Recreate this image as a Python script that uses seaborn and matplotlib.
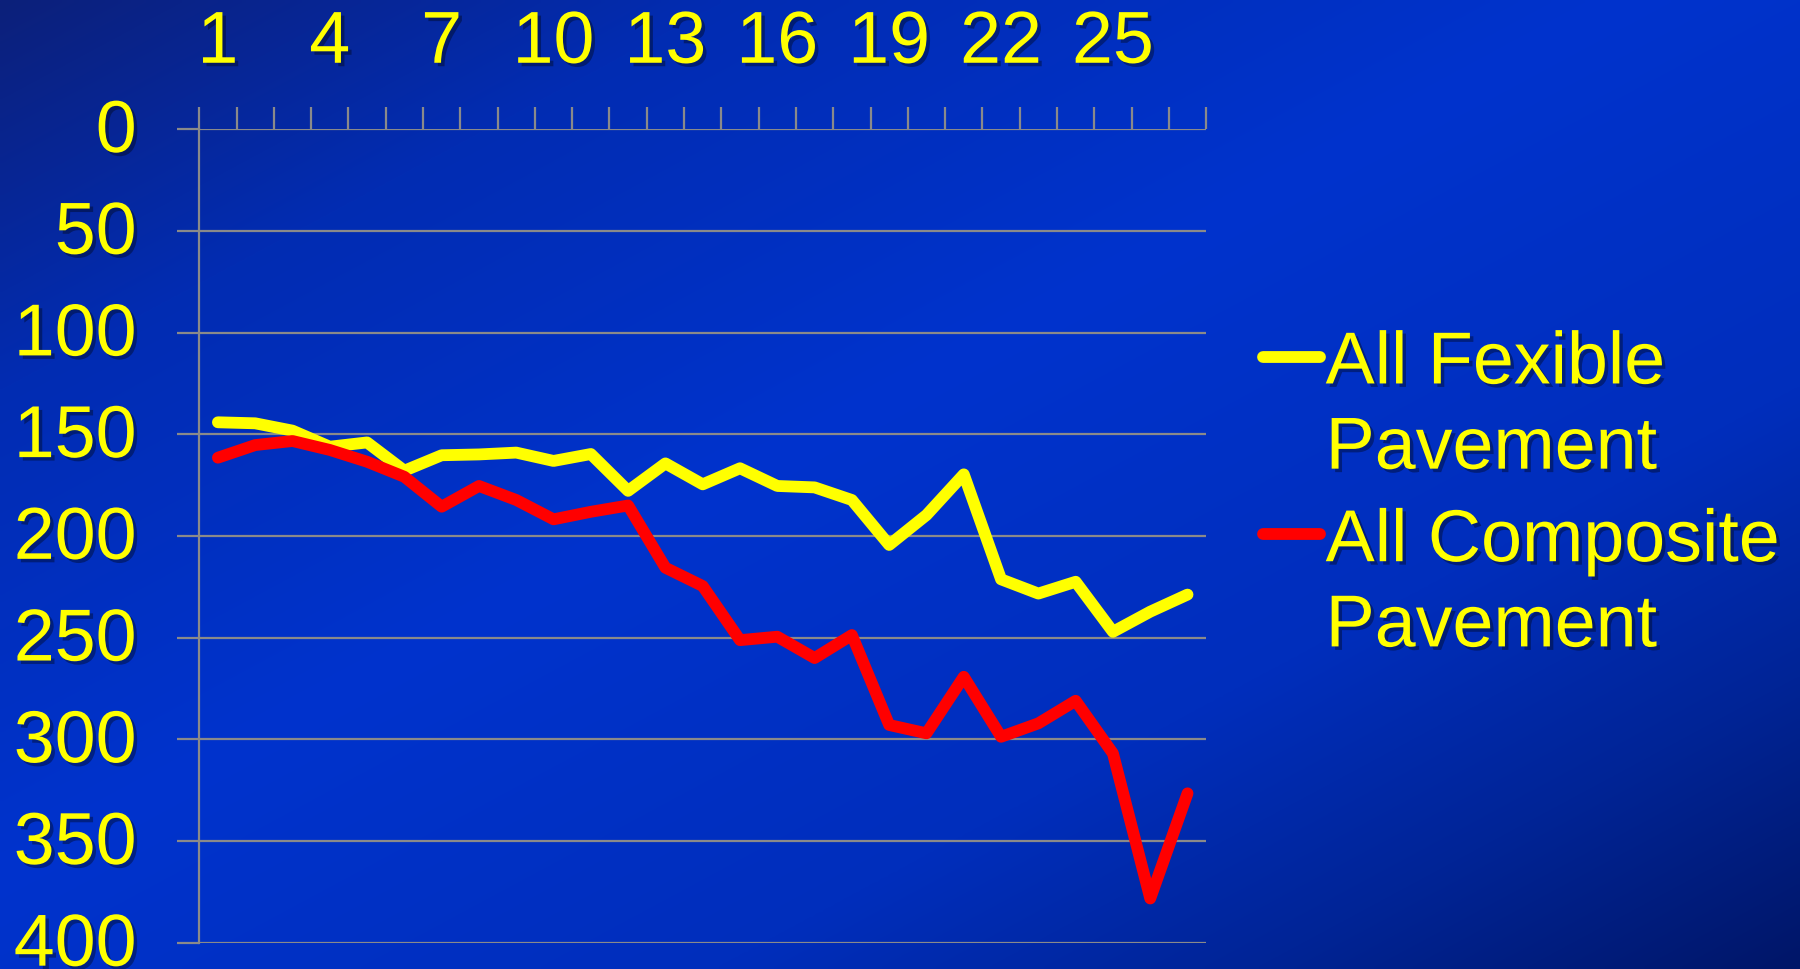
import numpy as np
import pandas as pd
import matplotlib
matplotlib.use("Agg")
import matplotlib.pyplot as plt
import matplotlib.patheffects as pe
import matplotlib.transforms as mtransforms
from matplotlib.lines import Line2D
from matplotlib.legend_handler import HandlerLine2D
import seaborn as sns

# ---------------- data ----------------
periods = list(range(1, 28))
flexible = [144.1, 144.6, 148.2, 156.1, 154.0, 167.9, 160.3, 159.9, 159.0, 163.1,
            159.7, 177.8, 164.3, 174.6, 166.7, 175.4, 176.1, 182.3, 204.4, 189.7,
            169.7, 221.3, 228.3, 222.5, 247.1, 237.2, 228.8]
composite = [161.5, 155.3, 153.3, 157.7, 163.5, 170.9, 185.6, 175.4, 182.3, 191.8,
             188.1, 185.0, 215.6, 224.6, 251.2, 249.5, 260.0, 248.7, 292.9, 297.0,
             269.2, 298.7, 292.1, 281.0, 306.9, 378.2, 326.5]
series_names = ["All Fexible\nPavement", "All Composite\nPavement"]
series_colors = ["#FFFF00", "#FF0000"]
y_ticks = [0, 50, 100, 150, 200, 250, 300, 350, 400]
x_label_periods = [1, 4, 7, 10, 13, 16, 19, 22, 25]

df = pd.DataFrame({
    "period": periods * 2,
    "value": flexible + composite,
    "series": [series_names[0]] * len(periods) + [series_names[1]] * len(periods),
})

# ---------------- style ----------------
sns.set_style("white")
plt.rcParams["font.family"] = ["Liberation Sans", "DejaVu Sans"]
TEXT = "#FFFF00"
GRID = "#8a8a8a"
LW = 8.5
shadow = [pe.withSimplePatchShadow(offset=(2.5, -2.5), shadow_rgbFace="black", alpha=0.35)]

fig = plt.figure(figsize=(18, 9.69), dpi=100)

# background gradient
bg = fig.add_axes([0, 0, 1, 1], zorder=-10)
W, H = 360, 194
xs = np.linspace(0, 1, W)[None, :]
ys = np.linspace(0, 1, H)[:, None]
s = (xs + ys) / 2.0
stops = [0.0, 0.2, 0.45, 0.7, 0.85, 1.0]
rs = [12, 2, 0, 0, 0, 0]
gs = [32, 44, 51, 46, 36, 22]
bsv = [122, 178, 205, 188, 150, 104]
img = np.dstack([np.interp(s, stops, rs), np.interp(s, stops, gs), np.interp(s, stops, bsv)]) / 255.0
bg.imshow(img, extent=[0, 1, 0, 1], aspect="auto", interpolation="bilinear")
bg.axis("off")

ax = fig.add_axes([0.1107, 0.0270, 0.5594, 0.8397])
ax.patch.set_alpha(0)

sns.lineplot(data=df, x="period", y="value", hue="series",
             palette=dict(zip(series_names, series_colors)),
             linewidth=LW, legend=False, errorbar=None, sort=False, ax=ax)
for ln in ax.lines:
    ln.set_linewidth(LW)
    ln.set_solid_capstyle("round")
    ln.set_solid_joinstyle("round")

ax.set_xlim(0.5, 27.5)
ax.set_ylim(400, 0)
ax.set_xlabel("")
ax.set_ylabel("")

ax.xaxis.tick_top()
ax.set_xticks(x_label_periods)
ax.set_xticklabels([str(p) for p in x_label_periods])
ax.set_xticks(np.arange(0.5, 28, 1), minor=True)
ax.tick_params(axis="x", which="major", length=0, pad=37, labelsize=53,
               labelcolor=TEXT, top=True, bottom=False, labeltop=True, labelbottom=False)
ax.tick_params(axis="x", which="minor", direction="out", length=16, width=1.6,
               color=GRID, top=True, bottom=False)

ax.set_yticks(y_ticks)
ax.set_yticklabels([str(v) for v in y_ticks])
ax.tick_params(axis="y", which="major", direction="out", length=16, width=1.6,
               color=GRID, pad=29, labelsize=53, labelcolor=TEXT, left=True)
ax.yaxis.grid(True, color=GRID, linewidth=1.6)
ax.xaxis.grid(False)
ax.set_axisbelow(True)

for side in ["top", "right", "bottom"]:
    ax.spines[side].set_visible(False)
ax.spines["left"].set_color(GRID)
ax.spines["left"].set_linewidth(1.6)

up = mtransforms.ScaledTranslation(0, 3 / 72, fig.dpi_scale_trans)
for lab in ax.get_yticklabels():
    lab.set_transform(lab.get_transform() + up)
for lab in ax.get_xticklabels() + ax.get_yticklabels():
    lab.set_path_effects(shadow)

LINESP = 1.3


class FirstLineHandler(HandlerLine2D):
    def create_artists(self, legend, orig_handle, xdescent, ydescent, width,
                       height, fontsize, trans):
        arts = super().create_artists(legend, orig_handle, xdescent, ydescent,
                                      width, height, fontsize, trans)
        for a in arts:
            if isinstance(a, Line2D):
                a.set_ydata(np.asarray(a.get_ydata()) + 0.536 * LINESP * fontsize)
        return arts


handles = [Line2D([0], [0], color=c, linewidth=LW, solid_capstyle="round")
           for c in series_colors]
leg = ax.legend(handles, series_names, loc="upper left",
                bbox_to_anchor=(0.7017, 0.660), bbox_transform=fig.transFigure,
                frameon=False, fontsize=53, handlelength=0.77, handletextpad=0.08,
                borderpad=0, borderaxespad=0, labelspacing=0.32,
                handler_map={Line2D: FirstLineHandler()})
for t in leg.get_texts():
    t.set_color(TEXT)
    t.set_linespacing(LINESP)
    t.set_path_effects(shadow)

fig.savefig("out.png", dpi=100)
